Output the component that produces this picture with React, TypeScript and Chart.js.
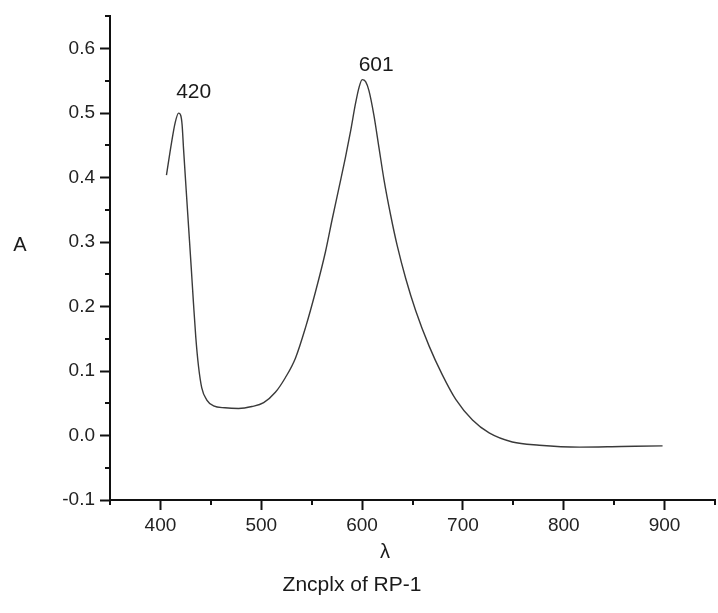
import React, { useEffect, useRef } from "react";
import { Chart, registerables } from "chart.js";

Chart.register(...registerables);

const wavelengths = [
  406, 411, 414.6, 418, 420, 421.5, 423, 425.5, 428, 430.5, 432.8, 435.1, 437.8, 441, 446,
  452.7, 464, 477.5, 490.8, 502.4, 514, 524, 533.9, 543.8, 553.8, 563.7, 570.3, 576.9,
  583.6, 588.6, 593.5, 597, 600.1, 603.5, 606.8, 611.7, 616.7, 621.7, 628.3, 634.9, 643.2,
  653.1, 666.4, 679.6, 692.9, 709.5, 726, 749, 775.7, 815.5, 857, 898,
];
const absorbance = [
  0.404, 0.454, 0.485, 0.5, 0.497, 0.482, 0.443, 0.382, 0.322, 0.262, 0.205, 0.152, 0.107,
  0.074, 0.055, 0.046, 0.043, 0.042, 0.045, 0.051, 0.067, 0.09, 0.12, 0.167, 0.223, 0.285,
  0.335, 0.383, 0.432, 0.472, 0.515, 0.54, 0.552, 0.549, 0.535, 0.497, 0.447, 0.397, 0.342,
  0.294, 0.244, 0.194, 0.139, 0.094, 0.056, 0.024, 0.004, -0.01, -0.015, -0.018, -0.017,
  -0.016,
];

const xMajorTicks = [400, 500, 600, 700, 800, 900];
const xMinorTicks = [350, 450, 550, 650, 750, 850, 950];
const yMajorTicks = [-0.1, 0, 0.1, 0.2, 0.3, 0.4, 0.5, 0.6];
const yMinorTicks = [-0.05, 0.05, 0.15, 0.25, 0.35, 0.45, 0.55, 0.65];

const peakLabels = ["420", "601"];
const peakLabelX = [433, 614];
const peakLabelY = [0.532, 0.574];

const yTitle = "A";
const xTitle = "λ";
const caption = "Zncplx of RP-1";

const FONT = "'Liberation Sans', Arial, sans-serif";
const AXIS = "#111";

const extrasPlugin = {
  id: "extras",
  afterDraw(chart: any) {
    const ctx = chart.ctx as CanvasRenderingContext2D;
    const xs = chart.scales.x;
    const ys = chart.scales.y;
    const area = chart.chartArea;
    ctx.save();
    ctx.strokeStyle = AXIS;
    ctx.lineWidth = 2;
    ctx.beginPath();
    for (const v of yMinorTicks) {
      const py = Math.round(ys.getPixelForValue(v));
      ctx.moveTo(area.left - 5, py);
      ctx.lineTo(area.left, py);
    }
    for (const v of xMinorTicks) {
      const px = Math.round(xs.getPixelForValue(v));
      ctx.moveTo(px, area.bottom);
      ctx.lineTo(px, area.bottom + 5);
    }
    ctx.stroke();

    ctx.fillStyle = "#1a1a1a";
    ctx.textAlign = "center";
    ctx.textBaseline = "middle";
    ctx.font = `21px ${FONT}`;
    peakLabels.forEach((t, i) => {
      ctx.fillText(t, xs.getPixelForValue(peakLabelX[i]), ys.getPixelForValue(peakLabelY[i]));
    });

    ctx.font = `20px ${FONT}`;
    ctx.fillText(yTitle, 20, 245);
    ctx.font = `20px ${FONT}`;
    ctx.fillText(xTitle, 385, 552);
    ctx.font = `21px ${FONT}`;
    ctx.fillText(caption, 352, 585);
    ctx.restore();
  },
};

export default function App() {
  const ref = useRef<HTMLCanvasElement>(null);
  useEffect(() => {
    const chart = new Chart(ref.current as HTMLCanvasElement, {
      type: "line",
      data: {
        datasets: [
          {
            data: wavelengths.map((x, i) => ({ x, y: absorbance[i] })),
            borderColor: "#3a3a3a",
            borderWidth: 1.4,
            pointRadius: 0,
            fill: false,
            cubicInterpolationMode: "monotone",
          },
        ],
      },
      options: {
        animation: false,
        responsive: false,
        devicePixelRatio: 1,
        layout: { padding: { top: 13, right: 3, left: 0, bottom: 0 } },
        plugins: { legend: { display: false }, tooltip: { enabled: false } },
        scales: {
          x: {
            type: "linear",
            min: 350,
            max: 950,
            afterBuildTicks: (s: any) => {
              s.ticks = xMajorTicks.map((v) => ({ value: v }));
            },
            afterFit: (s: any) => {
              s.height = 113;
            },
            grid: {
              drawOnChartArea: false,
              drawTicks: true,
              tickLength: 10,
              tickColor: AXIS,
              tickWidth: 2,
            },
            border: { color: AXIS, width: 2 },
            ticks: {
              color: "#222",
              font: { family: FONT, size: 19 },
              padding: 4,
              maxRotation: 0,
              autoSkip: false,
              callback: (v: any) => String(v),
            },
          },
          y: {
            type: "linear",
            min: -0.1,
            max: 0.65,
            afterBuildTicks: (s: any) => {
              s.ticks = yMajorTicks.map((v) => ({ value: v }));
            },
            afterFit: (s: any) => {
              s.width = 110;
            },
            grid: {
              drawOnChartArea: false,
              drawTicks: true,
              tickLength: 10,
              tickColor: AXIS,
              tickWidth: 2,
            },
            border: { color: AXIS, width: 2 },
            ticks: {
              color: "#222",
              font: { family: FONT, size: 19 },
              padding: 5,
              autoSkip: false,
              callback: (v: any) => Number(v).toFixed(1),
            },
          },
        },
      },
      plugins: [extrasPlugin],
    } as any);
    return () => chart.destroy();
  }, []);
  return (
    <div style={{ position: "absolute", left: 0, top: 0, width: 718, height: 613, background: "#fff" }}>
      <canvas ref={ref} width={718} height={613} style={{ display: "block" }} />
    </div>
  );
}
